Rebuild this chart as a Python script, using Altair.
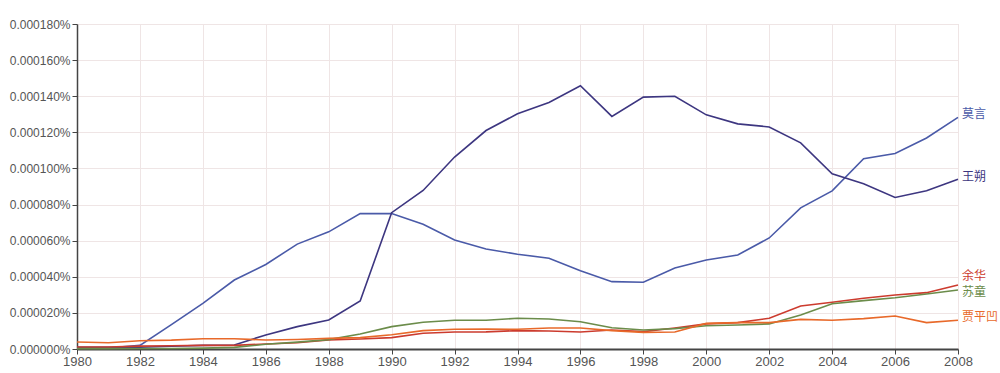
import altair as alt
import pandas as pd

years = list(range(1980, 2009))
names = ["莫言", "王朔", "余华", "苏童", "贾平凹"]
colors = ["#4a5aa8", "#3d3680", "#cc3b2e", "#6b8c4a", "#e8692a"]

# values in units of 0.000001 %
moyan = [0.5, 0.5, 2, 13.5, 25.3, 38.2, 46.8, 58.1, 64.9, 75, 75, 69.1, 60.4, 55.4, 52.5, 50.3,
         43.4, 37.3, 37.0, 44.9, 49.3, 52.1, 61.5, 78.2, 87.6, 105.4, 108.3, 116.9, 128.3]
wangshuo = [1, 1, 1, 1.5, 2, 2.2, 7.8, 12.4, 16.1, 26.6, 75.5, 87.8, 106.3, 121, 130.3, 136.5,
            145.8, 128.8, 139.5, 140, 129.7, 124.7, 123, 114.2, 97, 91.5, 83.9, 87.6, 94]
yuhua = [1.1, 1.1, 1.6, 1.8, 2, 2, 2.8, 3.5, 5, 5.5, 6.3, 8.7, 9.4, 9.5, 10.2, 10, 9.4, 10.5,
         9.6, 11.6, 13.9, 14.6, 17, 23.8, 25.9, 28.1, 29.9, 31.2, 35.5]
sutong = [0.2, 0.2, 0.3, 0.3, 0.5, 0.9, 2.6, 3.8, 5.2, 8.3, 12.4, 14.8, 15.9, 15.9, 17, 16.6,
          15.1, 11.8, 10.5, 11.3, 12.9, 13.3, 13.9, 18.8, 25.1, 26.8, 28.4, 30.5, 32.7]
jiapingwa = [3.9, 3.5, 4.6, 4.9, 5.7, 5.7, 5.0, 5.3, 5.9, 6.3, 7.9, 10.2, 10.9, 11.1, 10.9, 11.6,
             11.6, 10.2, 9.2, 9.4, 14.2, 14.6, 14.6, 16.4, 15.9, 16.8, 18.3, 14.6, 15.9]

y_ticks = [0, 20, 40, 60, 80, 100, 120, 140, 160, 180]
x_ticks = list(range(1980, 2009, 2))

series = [moyan, wangshuo, yuhua, sutong, jiapingwa]
rows = []
for n, s in zip(names, series):
    for yr, v in zip(years, s):
        rows.append({"year": yr, "name": n, "value": v})
df = pd.DataFrame(rows)
last = df[df.year == years[-1]]

color_scale = alt.Scale(domain=names, range=colors)

x_enc = alt.X("year:Q", scale=alt.Scale(domain=[1980, 2008], nice=False, zero=False),
              axis=alt.Axis(values=x_ticks, format="d", title=None, labelFont="Liberation Sans",
                            labelFontSize=13, labelColor="#555", domainColor="#444", domainWidth=2,
                            tickColor="#444", tickSize=5, gridColor="#efe5e5", labelPadding=1,
                            labelOverlap=False, labelFlush=False, labelBound=False))
y_enc = alt.Y("value:Q", scale=alt.Scale(domain=[0, 180], nice=False),
              axis=alt.Axis(values=y_ticks, title=None,
                            labelExpr="format(datum.value * 1e-6, '.6f') + '%'",
                            labelFont="Liberation Sans", labelFontSize=12, labelColor="#555",
                            domainColor="#444", domainWidth=1.5, tickColor="#444", tickSize=5,
                            gridColor="#efe5e5", labelPadding=2,
                            labelOverlap=False, labelFlush=False, labelBound=False))

lines = alt.Chart(df).mark_line(strokeWidth=1.6).encode(
    x=x_enc, y=y_enc,
    color=alt.Color("name:N", scale=color_scale, legend=None),
    detail="name:N",
)

label_dy = {"莫言": -3, "王朔": -2, "余华": -9, "苏童": 2, "贾平凹": -3}
label_layers = []
for n in names:
    label_layers.append(
        alt.Chart(last[last.name == n]).mark_text(
            align="left", baseline="middle", dx=4, dy=label_dy[n],
            font="Noto Sans CJK SC", fontSize=12
        ).encode(
            x=x_enc, y=y_enc, text="name:N",
            color=alt.Color("name:N", scale=color_scale, legend=None),
        )
    )

chart = alt.layer(lines, *label_layers).properties(
    width=881, height=325,
    autosize=alt.AutoSizeParams(type="none"),
    padding={"left": 77, "top": 24, "right": 42, "bottom": 24},
).configure_view(stroke=None).configure(background="white")

chart.save("out.html", embed_options={"renderer": "svg", "actions": False})
